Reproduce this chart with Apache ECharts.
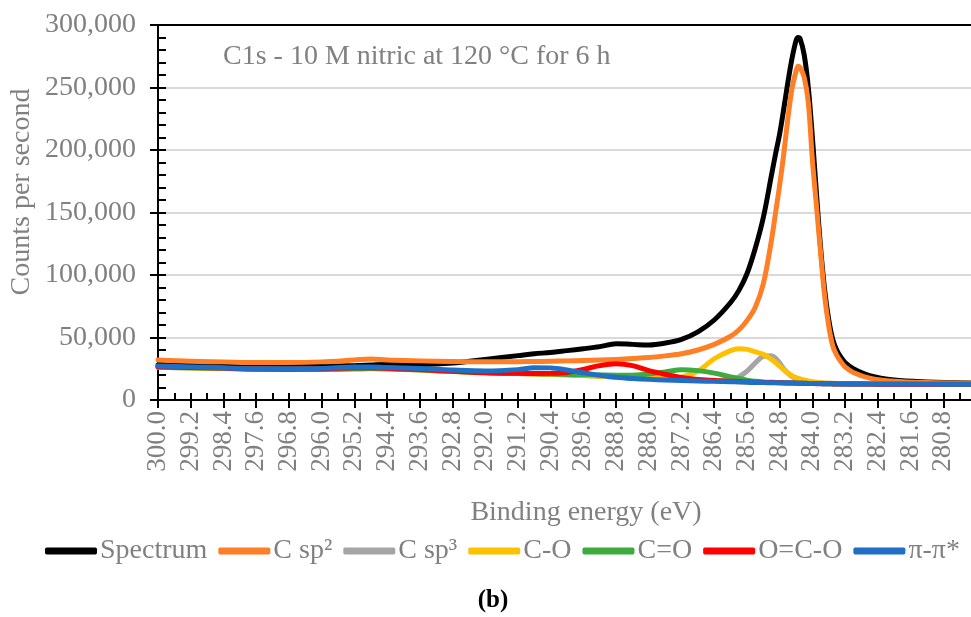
<!DOCTYPE html>
<html>
<head>
<meta charset="utf-8">
<script src="https://cdn.jsdelivr.net/npm/echarts@6/dist/echarts.min.js"></script>
<style>
html,body{margin:0;padding:0;background:#fff;}
#chart{width:971px;height:617px;}
</style>
</head>
<body>
<div id="chart"></div>
<script>
// Binding energies (eV) at which values were read
const energies = [300.0, 299.2, 298.4, 297.6, 296.8, 296.0, 295.2, 294.8, 294.4, 293.6, 292.8, 292.0, 291.2, 290.8, 290.4, 290.0, 289.6, 289.2, 288.8, 288.4, 288.0, 287.6, 287.2, 286.8, 286.4, 286.0, 285.8, 285.6, 285.4, 285.2, 285.0, 284.9, 284.8, 284.7, 284.6, 284.5, 284.4, 284.35, 284.3, 284.2, 284.1, 284.0, 283.9, 283.8, 283.7, 283.6, 283.5, 283.4, 283.3, 283.2, 283.0, 282.6, 282.0, 281.2, 280.0];

const spectrum = [28000, 28000, 27500, 27000, 27000, 27000, 27500, 28000, 28500, 28500, 29500, 32500, 35500, 37000, 38000, 39500, 41000, 42700, 45000, 44500, 44000, 45500, 48500, 54500, 64000, 78000, 87500, 101000, 121000, 146000, 180000, 197000, 213000, 233000, 254000, 273000, 287500, 290000, 289000, 276000, 250000, 210000, 165000, 122000, 88000, 64000, 48000, 39500, 34000, 30000, 25000, 19500, 16000, 14500, 13500];

const cSp2 = [32000, 31000, 30500, 30000, 30000, 30500, 32000, 32800, 32000, 31300, 30800, 30600, 30600, 30800, 31000, 31300, 31600, 32000, 32500, 33200, 34000, 35300, 37000, 40000, 44500, 51000, 56000, 63500, 74000, 93000, 128000, 150000, 172000, 197000, 225000, 249000, 263000, 267000, 266000, 258000, 238000, 192000, 155000, 118000, 83000, 59000, 43000, 35500, 30500, 26500, 22000, 17500, 15000, 14000, 13500];

const cSp3 = [26200, 25700, 25200, 24700, 24500, 24600, 25000, 25200, 25000, 24000, 22900, 21900, 21200, 20900, 20500, 20100, 19600, 19000, 18400, 17800, 17200, 16700, 16300, 15900, 15500, 16000, 18500, 23000, 29500, 35000, 35500, 33500, 29500, 25000, 21500, 18800, 17000, 16400, 15900, 15200, 14600, 14200, 13900, 13700, 13500, 13400, 13300, 13200, 13200, 13100, 13000, 12900, 12800, 12700, 12600];

const cO = [26100, 25600, 25100, 24600, 24400, 24500, 24900, 25100, 24900, 23900, 22800, 21800, 21100, 20800, 20400, 20000, 19500, 18900, 18300, 17800, 17500, 17300, 18300, 23000, 33000, 39500, 41000, 40500, 38500, 36500, 32500, 30000, 27000, 24200, 21500, 19500, 17900, 17300, 16800, 16000, 15300, 14700, 14300, 14000, 13700, 13500, 13400, 13300, 13200, 13100, 13000, 12900, 12800, 12700, 12600];

const cDoubleO = [26300, 25800, 25300, 24800, 24600, 24600, 25000, 25200, 25000, 24100, 23000, 22000, 21300, 21000, 20700, 20400, 20200, 20000, 19800, 19900, 20800, 22500, 24300, 23500, 21500, 18500, 17300, 15800, 15000, 14500, 14200, 14100, 14000, 13900, 13800, 13700, 13600, 13500, 13500, 13400, 13300, 13200, 13150, 13100, 13000, 13000, 12900, 12900, 12900, 12800, 12800, 12700, 12700, 12600, 12600];

const oCO = [26500, 26000, 25500, 24800, 24700, 24800, 25800, 25800, 25300, 24300, 23000, 21800, 21300, 21200, 21300, 22000, 24500, 27500, 29000, 27500, 23500, 20500, 18000, 16500, 15600, 15100, 14800, 14500, 14300, 14100, 14000, 13900, 13800, 13700, 13600, 13550, 13500, 13400, 13400, 13300, 13300, 13200, 13100, 13100, 13000, 13000, 12900, 12900, 12900, 12800, 12800, 12700, 12700, 12600, 12600];

const piPi = [27200, 26500, 25800, 25000, 25000, 25300, 26500, 26500, 26000, 25200, 24000, 23300, 24300, 25800, 25700, 24000, 21800, 19800, 18200, 17200, 16500, 16000, 15600, 15200, 14900, 14600, 14400, 14200, 14000, 13900, 13800, 13750, 13700, 13650, 13600, 13550, 13500, 13450, 13400, 13350, 13300, 13200, 13150, 13100, 13050, 13000, 13000, 12950, 12900, 12900, 12900, 12800, 12800, 12700, 12700];

const seriesNames = ['Spectrum', 'C sp²', 'C sp³', 'C-O', 'C=O', 'O=C-O', 'π-π*'];
const seriesValues = [spectrum, cSp2, cSp3, cO, cDoubleO, oCO, piPi];
const seriesColors = ['#000000', '#FF7F27', '#A5A5A5', '#FFC000', '#3DAB3D', '#FF0000', '#1F6FC6'];

const yTicks = {min: 0, max: 300000, interval: 50000};
const xTicks = {min: 280, max: 300, interval: 0.8};

const FONT = '"Liberation Serif", "DejaVu Serif", serif';
const GRAY = '#808080';

const chart = echarts.init(document.getElementById('chart'), null, {renderer: 'canvas'});

const series = seriesNames.map((name, k) => ({
  name: name,
  type: 'line',
  xAxisIndex: 0,
  yAxisIndex: 0,
  data: energies.map((e, i) => [e, seriesValues[k][i]]),
  smooth: 0.35,
  showSymbol: false,
  symbol: 'none',
  lineStyle: {width: 5, color: seriesColors[k], cap: 'round', join: 'round'},
  itemStyle: {color: seriesColors[k]},
  emphasis: {disabled: true},
  z: 2 + k
}));

const xBase = {type: 'value', inverse: true, min: xTicks.min, max: xTicks.max, interval: xTicks.interval};
const yBase = {type: 'value', min: yTicks.min, max: yTicks.max, interval: yTicks.interval};

chart.setOption({
  animation: false,
  backgroundColor: '#ffffff',
  grid: {left: 158, right: -5, top: 25, bottom: 217, containLabel: false, outerBoundsMode: 'none'},
  xAxis: [
    Object.assign({}, xBase, {
      position: 'bottom',
      axisLine: {show: true, onZero: false, lineStyle: {color: '#000', width: 2}},
      axisTick: {show: true, inside: false, length: 8, lineStyle: {color: '#000', width: 2}},
      minorTick: {show: false},
      splitLine: {show: false},
      axisLabel: {
        show: true, rotate: 90, margin: 11, color: GRAY, fontFamily: FONT, fontSize: 27,
        formatter: v => (Math.abs(v - xTicks.min) < 1e-6 ? '' : Number(v).toFixed(1))
      }
    }),
    Object.assign({}, xBase, {
      position: 'bottom',
      axisLine: {show: false, onZero: false},
      axisTick: {show: true, inside: true, length: 7, lineStyle: {color: '#000', width: 2}},
      minorTick: {show: true, splitNumber: 2, length: 7, lineStyle: {color: '#000', width: 2}},
      splitLine: {show: false},
      axisLabel: {show: false}
    }),
    Object.assign({}, xBase, {
      position: 'top',
      axisLine: {show: true, onZero: false, lineStyle: {color: '#000', width: 2}},
      axisTick: {show: false},
      splitLine: {show: false},
      axisLabel: {show: false}
    })
  ],
  yAxis: [
    Object.assign({}, yBase, {
      position: 'left',
      axisLine: {show: true, onZero: false, lineStyle: {color: '#000', width: 2}},
      axisTick: {show: true, inside: false, length: 8, lineStyle: {color: '#000', width: 2}},
      minorTick: {show: false},
      splitLine: {show: true, lineStyle: {color: '#D9D9D9', width: 2}},
      axisLabel: {
        show: true, margin: 22, color: GRAY, fontFamily: FONT, fontSize: 28,
        formatter: v => Number(v).toLocaleString('en-US')
      }
    }),
    Object.assign({}, yBase, {
      position: 'left',
      offset: 0,
      axisLine: {show: false, onZero: false},
      axisTick: {show: true, inside: true, length: 8, lineStyle: {color: '#000', width: 2}},
      minorTick: {show: true, splitNumber: 5, length: 8, lineStyle: {color: '#000', width: 2}},
      splitLine: {show: false},
      axisLabel: {show: false}
    })
  ],
  legend: {
    show: true,
    left: 40,
    top: 532,
    orient: 'horizontal',
    icon: 'roundRect',
    itemWidth: 52,
    itemHeight: 7,
    itemGap: 11,
    textStyle: {color: GRAY, fontFamily: FONT, fontSize: 28, padding: [0, 0, 0, -2]},
    data: seriesNames.map((n, k) => ({name: n, itemStyle: {color: seriesColors[k]}}))
  },
  graphic: [
    {type: 'text', left: 223, top: 43, style: {text: 'C1s - 10 M nitric at 120 °C for 6 h', fill: GRAY, font: '28px ' + FONT}},
    {type: 'text', x: 22, y: 192, rotation: Math.PI / 2, style: {text: 'Counts per second', fill: GRAY, font: '28px ' + FONT, align: 'center', verticalAlign: 'middle'}},
    {type: 'text', x: 586, y: 513, style: {text: 'Binding energy (eV)', fill: GRAY, font: '28px ' + FONT, align: 'center', verticalAlign: 'middle'}},
    {type: 'text', x: 493, y: 601, style: {text: '(b)', fill: '#000', font: 'bold 25px ' + FONT, align: 'center', verticalAlign: 'middle'}}
  ],
  series: series
});
</script>
</body>
</html>
